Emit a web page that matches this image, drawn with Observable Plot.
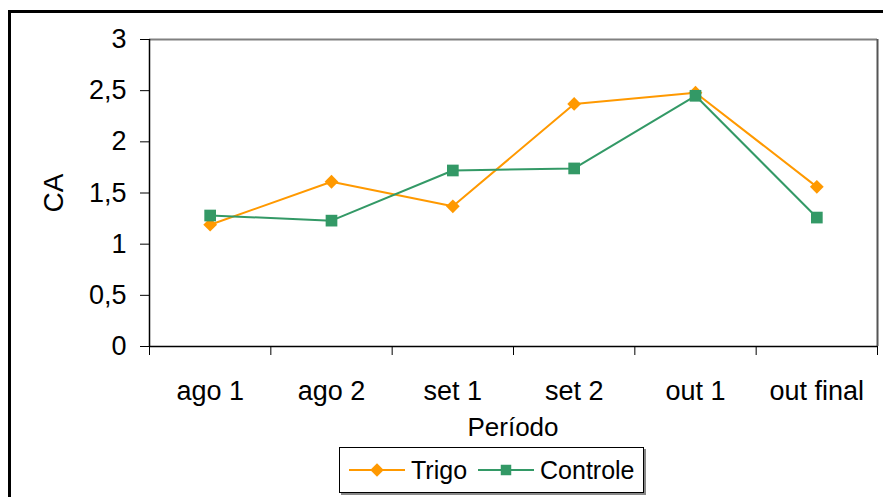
<!DOCTYPE html>
<html>
<head>
<meta charset="utf-8">
<script src="https://cdn.jsdelivr.net/npm/d3@7"></script>
<script src="https://cdn.jsdelivr.net/npm/@observablehq/plot@0.6"></script>
<style>
  html, body { margin: 0; padding: 0; background: #fff; }
  #wrap { position: relative; width: 883px; height: 497px; overflow: hidden; background: #fff;
          font-family: "Liberation Sans", Arial, sans-serif; }
  #frame { position: absolute; left: 8px; top: 10px; width: 900px; height: 600px;
           border: 3px solid #000; box-sizing: border-box; }
  #plot { position: absolute; left: 0; top: 0; }
  #xlabel { position: absolute; left: 149px; width: 728px; top: 412px; text-align: center;
            font-size: 26px; line-height: 30px; color: #000; }
  #legend { position: absolute; left: 339px; top: 447px; width: 305px; height: 46px;
            border: 1px solid #000; box-shadow: 2px 2px 0 #888; box-sizing: border-box;
            display: flex; align-items: center; font-size: 25px; color: #000; }
  #legend .item { display: flex; align-items: center; }
  #legend svg { display: block; }
</style>
</head>
<body>
<div id="wrap">
  <div id="frame"></div>
  <div id="plot"></div>
  <div id="xlabel">Período</div>
  <div id="legend"></div>
</div>
<script>
const categories = ["ago 1", "ago 2", "set 1", "set 2", "out 1", "out final"];
const trigo = [1.19, 1.61, 1.37, 2.37, 2.48, 1.56];
const controle = [1.28, 1.23, 1.72, 1.74, 2.45, 1.26];
const yTicks = [0, 0.5, 1, 1.5, 2, 2.5, 3];
const seriesNames = ["Trigo", "Controle"];
const colors = ["#FF9900", "#339966"];

const rows = [];
categories.forEach((c, i) => {
  rows.push({serie: "Trigo", pos: i + 0.5, value: trigo[i]});
  rows.push({serie: "Controle", pos: i + 0.5, value: controle[i]});
});
const trigoRows = rows.filter(d => d.serie === "Trigo");
const controleRows = rows.filter(d => d.serie === "Controle");
const comma = d => String(d).replace(".", ",");

const chart = Plot.plot({
  width: 883,
  height: 445,
  marginLeft: 149,
  marginRight: 6,
  marginTop: 39,
  marginBottom: 99,
  style: {fontFamily: "'Liberation Sans', Arial, sans-serif", color: "#000", background: "transparent", overflow: "visible"},
  x: {type: "linear", domain: [0, categories.length]},
  y: {domain: [0, 3]},
  marks: [
    Plot.ruleY([3], {stroke: "#808080", strokeWidth: 2}),
    Plot.ruleX([categories.length], {stroke: "#555", strokeWidth: 2}),
    Plot.axisY({ticks: yTicks, tickSize: 9, tickPadding: 14, tickFormat: comma, fontSize: 27, label: null, stroke: "#000", strokeOpacity: 1}),
    Plot.axisY({ticks: [], label: "CA", labelAnchor: "center", labelArrow: "none", labelOffset: 106, fontSize: 28}),
    Plot.axisX({ticks: d3.range(categories.length + 1), tickSize: 9, tickFormat: () => "", label: null, strokeOpacity: 1}),
    Plot.axisX({ticks: categories.map((c, i) => i + 0.5), tickSize: 0, tickPadding: 34, tickFormat: v => categories[Math.floor(v)], fontSize: 27, label: null}),
    Plot.ruleX([0], {stroke: "#000", strokeWidth: 1.5}),
    Plot.ruleY([0], {stroke: "#000", strokeWidth: 1.5}),
    Plot.line(trigoRows, {x: "pos", y: "value", stroke: colors[0], strokeWidth: 2}),
    Plot.line(controleRows, {x: "pos", y: "value", stroke: colors[1], strokeWidth: 2}),
    Plot.dot(trigoRows, {x: "pos", y: "value", symbol: "diamond2", r: 6.2, fill: colors[0], stroke: "none"}),
    Plot.dot(controleRows, {x: "pos", y: "value", symbol: "square", r: 6.6, fill: colors[1], stroke: "none"})
  ]
});
document.getElementById("plot").appendChild(chart);

// Legend
const legend = d3.select("#legend");
const symbols = [d3.symbolDiamond2, d3.symbolSquare];
const symSizes = [115, 110];
seriesNames.forEach((name, i) => {
  const item = legend.append("div").attr("class", "item").style("margin-left", i === 0 ? "8px" : "10px");
  const s = item.append("svg").attr("width", 58).attr("height", 20);
  s.append("line").attr("x1", 1).attr("x2", 57).attr("y1", 10).attr("y2", 10)
    .attr("stroke", colors[i]).attr("stroke-width", 2);
  s.append("path").attr("d", d3.symbol(symbols[i], symSizes[i])()).attr("transform", "translate(29,10)")
    .attr("fill", colors[i]);
  item.append("span").text(name).style("margin-left", "5px");
});
</script>
</body>
</html>
